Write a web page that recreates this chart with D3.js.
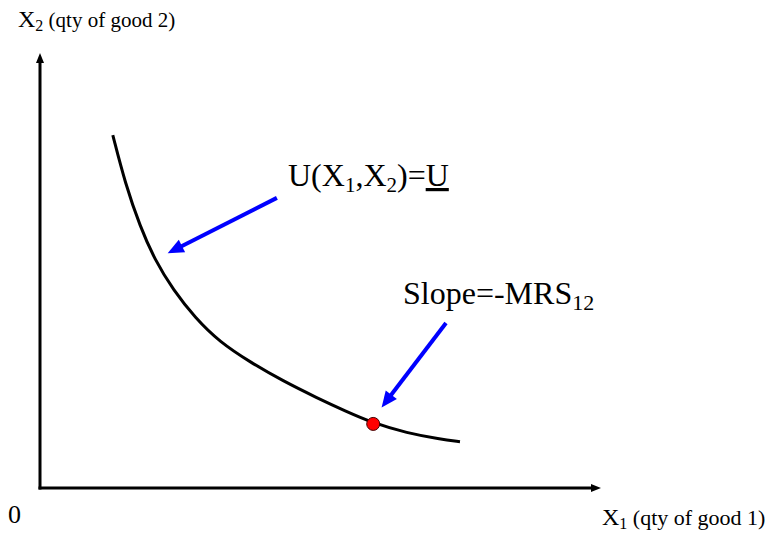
<!DOCTYPE html>
<html>
<head>
<meta charset="utf-8">
<script src="https://cdn.jsdelivr.net/npm/d3@7"></script>
<style>
  body { margin: 0; background: #fff; }
  text { font-family: "Liberation Serif", "Times New Roman", serif; fill: #000; }
</style>
</head>
<body>
<div id="chart"></div>
<script>
// indifference curve (x1, x2 in 0..100 units)
var curveX1 = [13.0, 15.2, 17.9, 20.5, 23.8, 27.7, 32.1, 37.5, 43.4, 49.5, 54.5, 59.5, 65.5, 71.4, 75.0];
var curveX2 = [81.5, 70.4, 60.3, 52.7, 45.7, 39.3, 33.7, 29.1, 24.7, 20.8, 17.8, 15.0, 12.7, 11.3, 10.7];

// tangency point
var pointX1 = [59.5];
var pointX2 = [14.8];

// annotation arrows: [fromX1, fromX2, toX1, toX2]
var arrowU = [42.3, 67.0, 22.8, 54.2];
var arrowMRS = [72.5, 38.1, 61.0, 18.6];

var width = 772, height = 533;

var svg = d3.select("#chart").append("svg")
    .attr("width", width)
    .attr("height", height);

var x = d3.scaleLinear().domain([0, 100]).range([40, 600]);
var y = d3.scaleLinear().domain([0, 100]).range([488, 55]);

// arrow helper: line with a filled head at the end
function arrow(x1, y1, x2, y2, color, lw, headLen, headW) {
  var ang = Math.atan2(y2 - y1, x2 - x1);
  var bx = x2 - headLen * Math.cos(ang), by = y2 - headLen * Math.sin(ang);
  svg.append("line")
    .attr("x1", x1).attr("y1", y1)
    .attr("x2", bx + Math.cos(ang)).attr("y2", by + Math.sin(ang))
    .attr("stroke", color).attr("stroke-width", lw);
  var px = -Math.sin(ang) * headW / 2, py = Math.cos(ang) * headW / 2;
  svg.append("path")
    .attr("d", "M" + x2 + "," + y2 + "L" + (bx + px) + "," + (by + py) + "L" + (bx - px) + "," + (by - py) + "Z")
    .attr("fill", color);
}

// axes
arrow(x(0), y(0) + 1.5, x(0), y(100) - 2, "#000", 3, 10, 8);
arrow(x(0) - 1.5, y(0), x(100) + 1, y(0), "#000", 3, 10, 8);

// curve (basis smooths out reading errors)
var line = d3.line()
  .x(function(d) { return x(d[0]); })
  .y(function(d) { return y(d[1]); })
  .curve(d3.curveBasis);

svg.append("path")
  .datum(d3.zip(curveX1, curveX2))
  .attr("d", line)
  .attr("fill", "none")
  .attr("stroke", "#000")
  .attr("stroke-width", 3);

// blue arrows
arrow(x(arrowU[0]), y(arrowU[1]), x(arrowU[2]), y(arrowU[3]), "#0000ff", 4, 16, 14);
arrow(x(arrowMRS[0]), y(arrowMRS[1]), x(arrowMRS[2]), y(arrowMRS[3]), "#0000ff", 4, 16, 14);

// point
svg.selectAll(".pt")
  .data(d3.zip(pointX1, pointX2))
  .enter().append("circle")
  .attr("class", "pt")
  .attr("cx", function(d) { return x(d[0]); })
  .attr("cy", function(d) { return y(d[1]); })
  .attr("r", 6.5)
  .attr("fill", "#ff0000")
  .attr("stroke", "#400000")
  .attr("stroke-width", 1);

// labels
var t2 = svg.append("text").attr("x", 18).attr("y", 27);
t2.append("tspan").attr("font-size", 24).text("X");
t2.append("tspan").attr("font-size", 16).attr("dy", 4).text("2");
t2.append("tspan").attr("font-size", 21).attr("dy", -4).text(" (qty of good 2)");

var t1 = svg.append("text").attr("x", 602).attr("y", 525);
t1.append("tspan").attr("font-size", 24).text("X");
t1.append("tspan").attr("font-size", 16).attr("dy", 4).text("1");
t1.append("tspan").attr("font-size", 22).attr("dy", -4).text(" (qty of good 1)");

svg.append("text").attr("x", 8).attr("y", 523).attr("font-size", 26).text("0");

var tu = svg.append("text").attr("x", 288).attr("y", 186).attr("font-size", 32);
tu.append("tspan").text("U(X");
tu.append("tspan").attr("font-size", 21).attr("dy", 6).text("1");
tu.append("tspan").attr("dy", -6).text(",X");
tu.append("tspan").attr("font-size", 21).attr("dy", 6).text("2");
tu.append("tspan").attr("dy", -6).text(")=");
tu.append("tspan").attr("text-decoration", "underline").text("U");

var ts = svg.append("text").attr("x", 403).attr("y", 304).attr("font-size", 32);
ts.append("tspan").text("Slope=-MRS");
ts.append("tspan").attr("font-size", 22).attr("dy", 6).text("12");
</script>
</body>
</html>
